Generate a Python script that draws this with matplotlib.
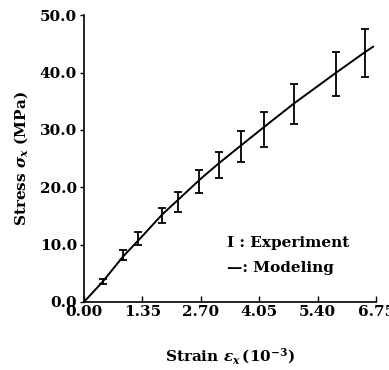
import matplotlib
matplotlib.use("Agg")
import matplotlib.pyplot as plt

plt.rcParams['font.family'] = ['DejaVu Serif']
plt.rcParams['mathtext.fontset'] = 'custom'
plt.rcParams['mathtext.rm'] = 'DejaVu Serif:bold'
plt.rcParams['mathtext.it'] = 'DejaVu Serif:italic:bold'
plt.rcParams['mathtext.bf'] = 'DejaVu Serif:bold'

# Experiment data (strain 1e-3, stress MPa, lower/upper error)
exp_strain = [0.44, 0.90, 1.25, 1.80, 2.18, 2.66, 3.12, 3.63, 4.16, 4.85, 5.83, 6.50]
exp_stress = [3.6, 8.2, 11.0, 15.1, 17.5, 21.0, 23.9, 27.1, 30.1, 34.5, 39.8, 43.4]
exp_low = [3.2, 7.3, 9.9, 13.8, 15.7, 19.0, 21.6, 24.4, 27.0, 31.0, 35.9, 39.2]
exp_high = [4.0, 9.1, 12.2, 16.4, 19.2, 23.0, 26.1, 29.8, 33.1, 38.0, 43.6, 47.6]

# Model curve
mod_strain = [0.0, 0.44, 0.90, 1.35, 1.80, 2.20, 2.70, 3.12, 3.63, 4.16, 4.85, 5.83, 6.50, 6.68]
mod_stress = [0.0, 3.6, 7.9, 11.5, 15.2, 18.0, 21.5, 24.2, 27.3, 30.5, 34.6, 40.0, 43.6, 44.5]

xticks = [0.00, 1.35, 2.70, 4.05, 5.40, 6.75]
xtick_labels = ["0.00", "1.35", "2.70", "4.05", "5.40", "6.75"]
yticks = [0, 10, 20, 30, 40, 50]
ytick_labels = ["0.0", "10.0", "20.0", "30.0", "40.0", "50.0"]

fig = plt.figure(figsize=(3.89, 3.70), dpi=100)
ax = fig.add_axes([0.216, 0.184, 0.751, 0.775])

ax.plot(mod_strain, mod_stress, color='black', lw=1.4)
yerr = [[s - l for s, l in zip(exp_stress, exp_low)], [h - s for s, h in zip(exp_stress, exp_high)]]
ax.errorbar(exp_strain, exp_stress, yerr=yerr, fmt='none', ecolor='black',
            elinewidth=1.3, capsize=3, capthick=1.3)

ax.set_xlim(0, 6.75)
ax.set_ylim(0, 50)
ax.set_xticks(xticks)
ax.set_xticklabels(xtick_labels)
ax.set_yticks(yticks)
ax.set_yticklabels(ytick_labels)
for lab in ax.get_xticklabels() + ax.get_yticklabels():
    lab.set_fontweight('bold')
    lab.set_fontsize(11)
ax.tick_params(axis='x', direction='in', length=4, width=1.0, pad=2)
ax.tick_params(axis='y', direction='out', length=3, width=1.0, pad=2)

ax.spines['top'].set_visible(False)
ax.spines['right'].set_visible(False)
ax.spines['left'].set_linewidth(1.2)
ax.spines['bottom'].set_linewidth(1.2)

ax.set_xlabel(r"Strain $\epsilon_x\,(10^{-3})$", fontsize=11, fontweight='bold', labelpad=20)
ax.set_ylabel(r"Stress $\sigma_x$ (MPa)", fontsize=11, fontweight='bold', labelpad=7)

ax.text(0.49, 0.205, "I : Experiment", transform=ax.transAxes, fontsize=11,
        fontweight='bold', va='center', ha='left')
ax.text(0.49, 0.118, "\u2014: Modeling", transform=ax.transAxes, fontsize=11,
        fontweight='bold', va='center', ha='left')

fig.savefig("out.png", dpi=100)
